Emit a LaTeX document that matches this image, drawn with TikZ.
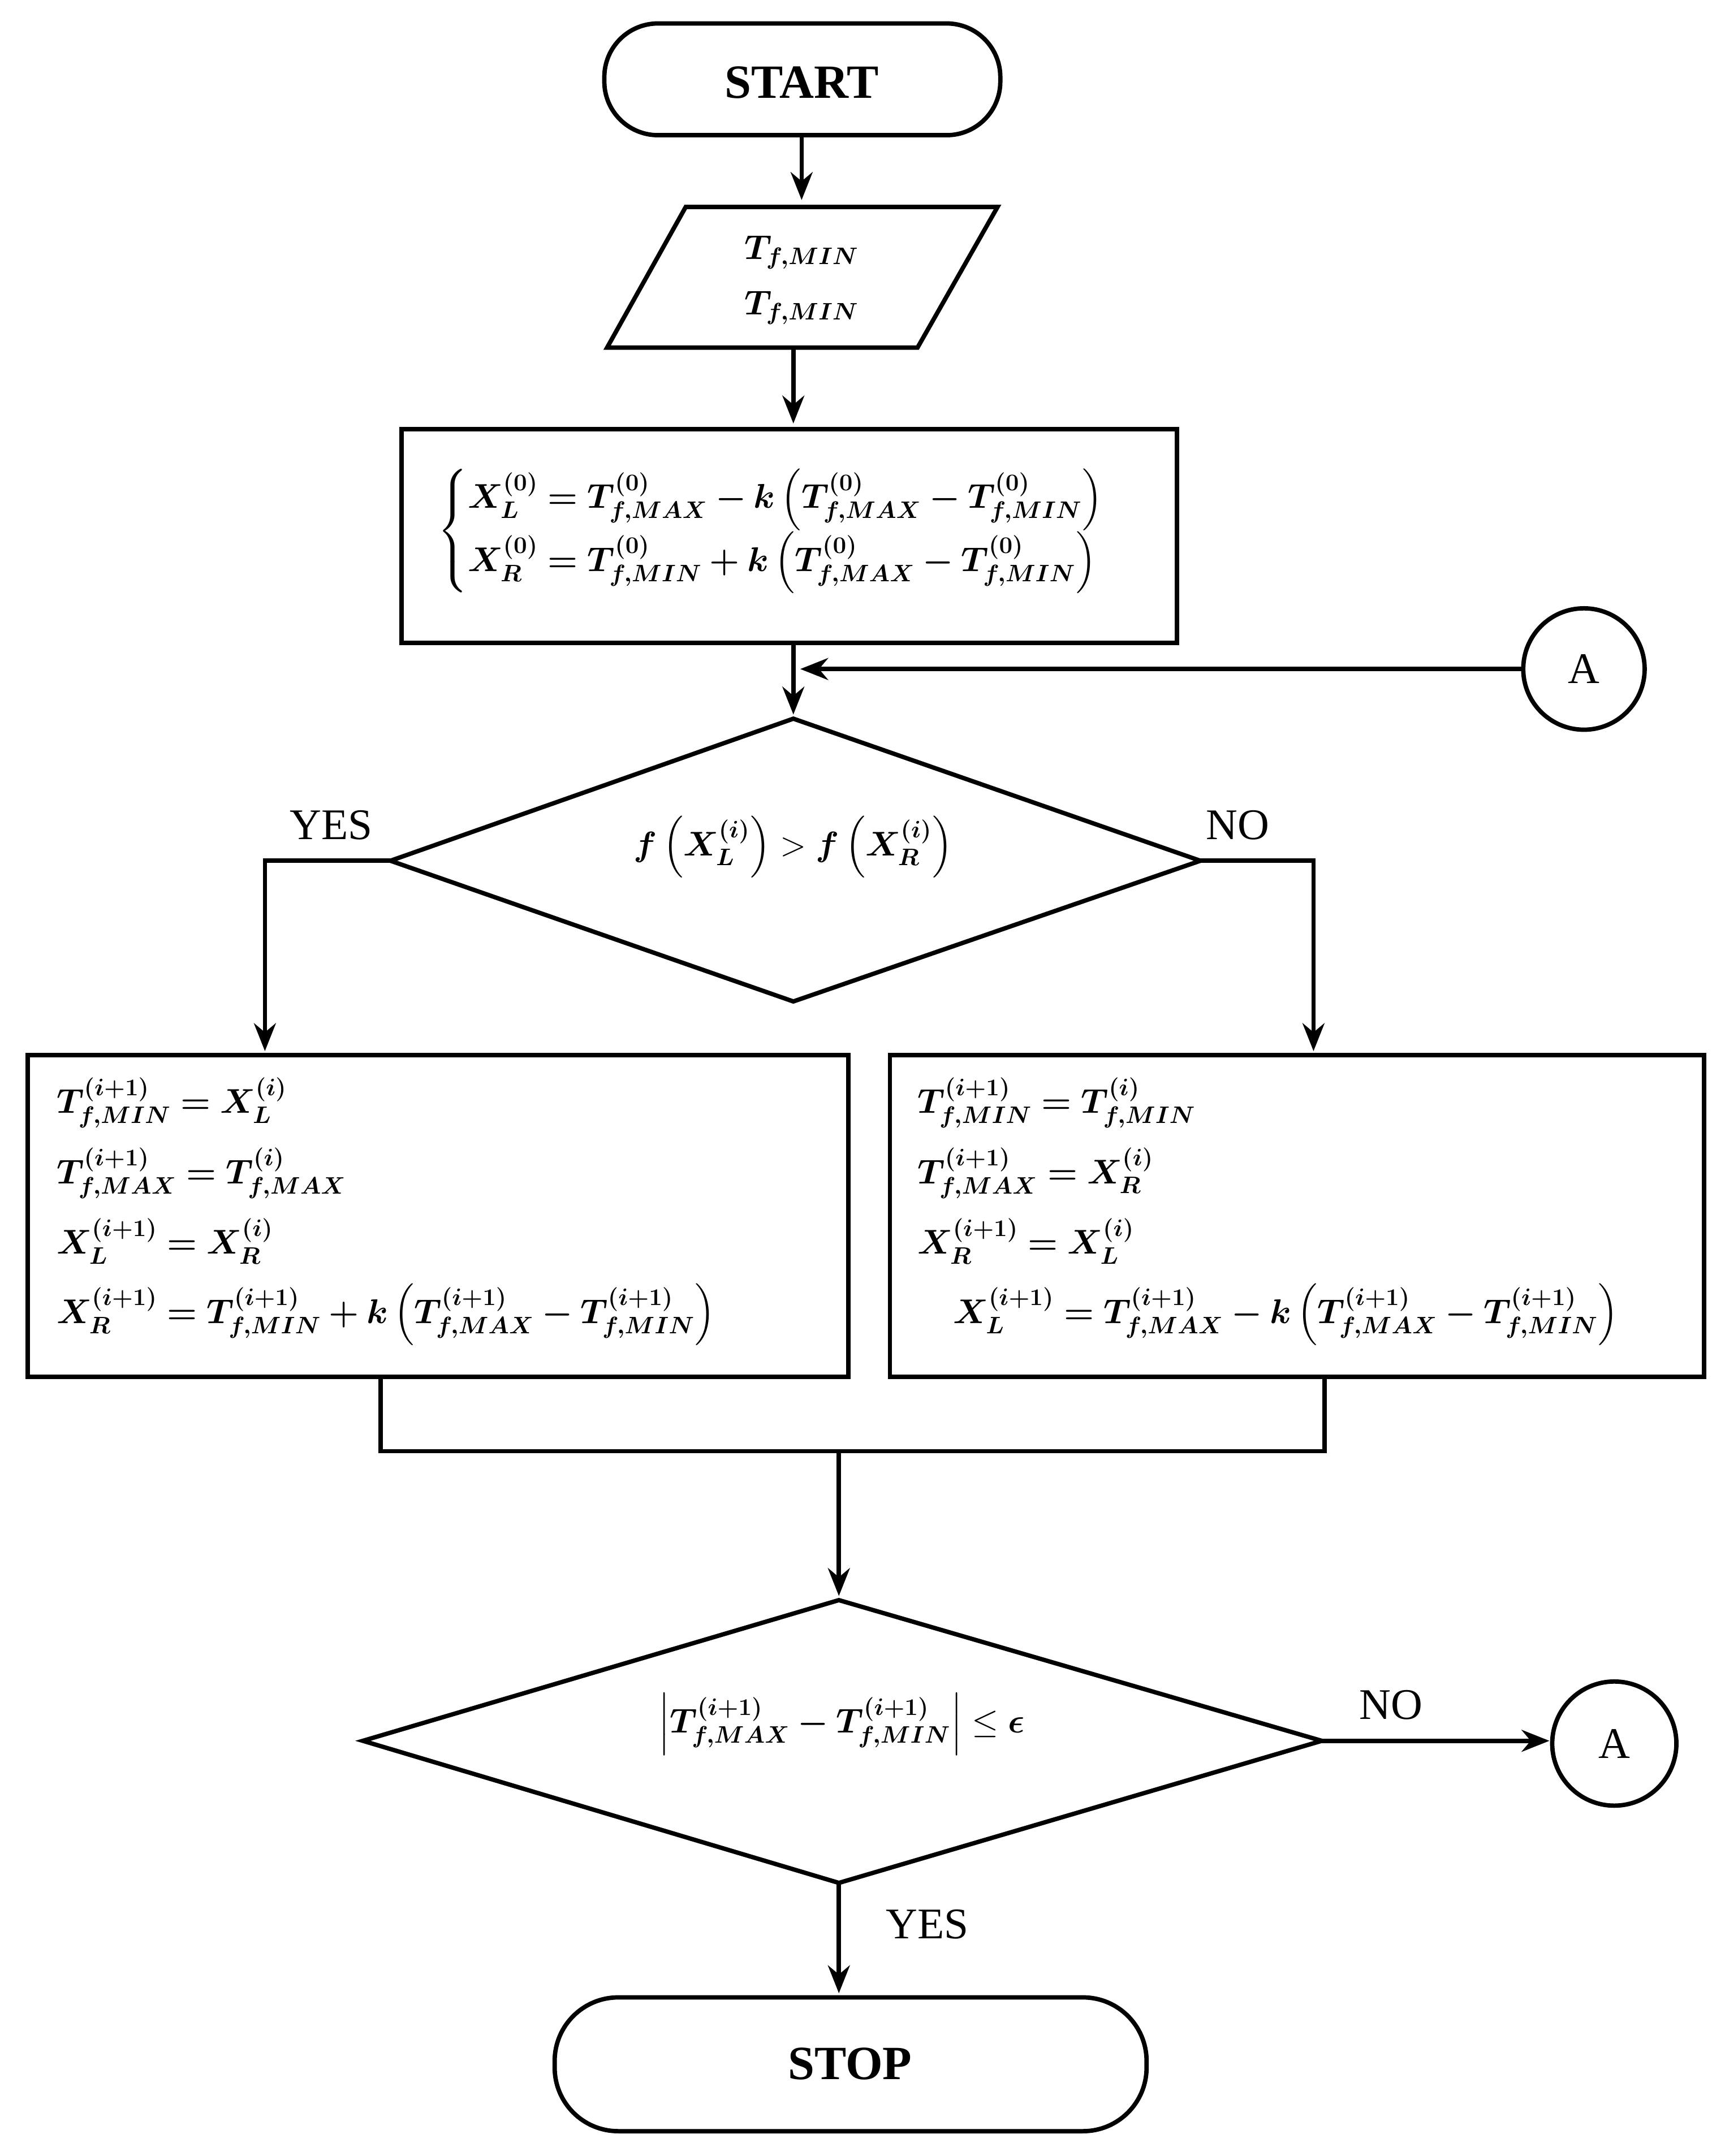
\documentclass[tikz,border=0pt]{standalone}
\usepackage{amsmath,bm}
\usepackage{fontspec}
\setmainfont{Liberation Serif}
\usetikzlibrary{shapes.geometric,arrows.meta}
\begin{document}
\begin{tikzpicture}[x=0.0244cm,y=-0.0244cm,
  ln/.style={line width=2.2pt},
  arr/.style={ln,-{Stealth[length=14pt,width=11pt]}},
  txt/.style={font=\fontsize{22}{28}\selectfont},
  mth/.style={font=\fontsize{18}{22}\selectfont}]
\useasboundingbox (0,0) rectangle (1250,1563);
% START / STOP
\draw[ln,rounded corners=27pt] (438,17) rectangle (725,98);
\node[font=\fontsize{24}{28}\selectfont\bfseries] (start) at (581,60) {START};
\draw[ln,rounded corners=32pt] (402,1448) rectangle (831,1545);
\node[font=\fontsize{24}{28}\selectfont\bfseries] (stop) at (616,1496) {STOP};
% parallelogram
\draw[ln] (497,150) -- (723,150) -- (665,252) -- (440,252) -- cycle;
\node[mth,align=center] (inp) at (581,203) {$\bm{T_{f,MIN}}$\\[6pt]$\bm{T_{f,MIN}}$};
% box1
\draw[ln] (291,311) rectangle (853,466);
\node[mth] (b1) at (572,385) {$\begin{cases}\boldsymbol{X_L^{(0)}=T_{f,MAX}^{(0)}-k\left(T_{f,MAX}^{(0)}-T_{f,MIN}^{(0)}\right)}\\[4pt] \boldsymbol{X_R^{(0)}=T_{f,MIN}^{(0)}+k\left(T_{f,MAX}^{(0)}-T_{f,MIN}^{(0)}\right)}\end{cases}$};
% diamond 1
\draw[ln] (575,521) -- (870,624) -- (575,726) -- (283,624) -- cycle;
\node[mth] (d1) at (575,614) {$\boldsymbol{f\left(X_L^{(i)}\right)}>\boldsymbol{f\left(X_R^{(i)}\right)}$};
\node[txt] at (240,598) {YES};
\node[txt] at (897,598) {NO};
% A circles
\draw[ln] (1148,485) circle (44);
\node[txt] (a1) at (1148,485) {A};
\draw[ln] (1170,1264) circle (45);
\node[txt] (a2) at (1170,1264) {A};
% boxes left/right
\draw[ln] (20,765) rectangle (615,998);
\node[mth,align=left,anchor=north west] (bl) at (36,776) {$\boldsymbol{T_{f,MIN}^{(i+1)}=X_L^{(i)}}$\\[9pt]
$\boldsymbol{T_{f,MAX}^{(i+1)}=T_{f,MAX}^{(i)}}$\\[9pt]
$\boldsymbol{X_L^{(i+1)}=X_R^{(i)}}$\\[9pt]
$\boldsymbol{X_R^{(i+1)}=T_{f,MIN}^{(i+1)}+k\left(T_{f,MAX}^{(i+1)}-T_{f,MIN}^{(i+1)}\right)}$};
\draw[ln] (645,765) rectangle (1235,998);
\node[mth,align=left,anchor=north west] (br) at (660,776) {$\boldsymbol{T_{f,MIN}^{(i+1)}=T_{f,MIN}^{(i)}}$\\[9pt]
$\boldsymbol{T_{f,MAX}^{(i+1)}=X_R^{(i)}}$\\[9pt]
$\boldsymbol{X_R^{(i+1)}=X_L^{(i)}}$\\[9pt]
\quad$\boldsymbol{X_L^{(i+1)}=T_{f,MAX}^{(i+1)}-k\left(T_{f,MAX}^{(i+1)}-T_{f,MIN}^{(i+1)}\right)}$};
% diamond 2
\draw[ln] (608,1160) -- (958,1262) -- (608,1365) -- (263,1262) -- cycle;
\node[mth] (d2) at (610,1250) {$\boldsymbol{\left|T_{f,MAX}^{(i+1)}-T_{f,MIN}^{(i+1)}\right|}\le\boldsymbol{\epsilon}$};
\node[txt] at (1008,1236) {NO};
\node[txt] at (672,1395) {YES};
% connectors
\draw[arr] (581,98) -- (581,145);
\draw[arr] (575,252) -- (575,307);
\draw[arr] (575,466) -- (575,518);
\draw[arr] (1104,485) -- (580,485);
\draw[arr] (283,624) -- (192,624) -- (192,762);
\draw[arr] (870,624) -- (952,624) -- (952,762);
\draw[ln] (276,998) -- (276,1052) -- (960,1052) -- (960,998);
\draw[arr] (608,1052) -- (608,1157);
\draw[arr] (958,1262) -- (1123,1262);
\draw[arr] (608,1365) -- (608,1445);
\end{tikzpicture}
\end{document}
